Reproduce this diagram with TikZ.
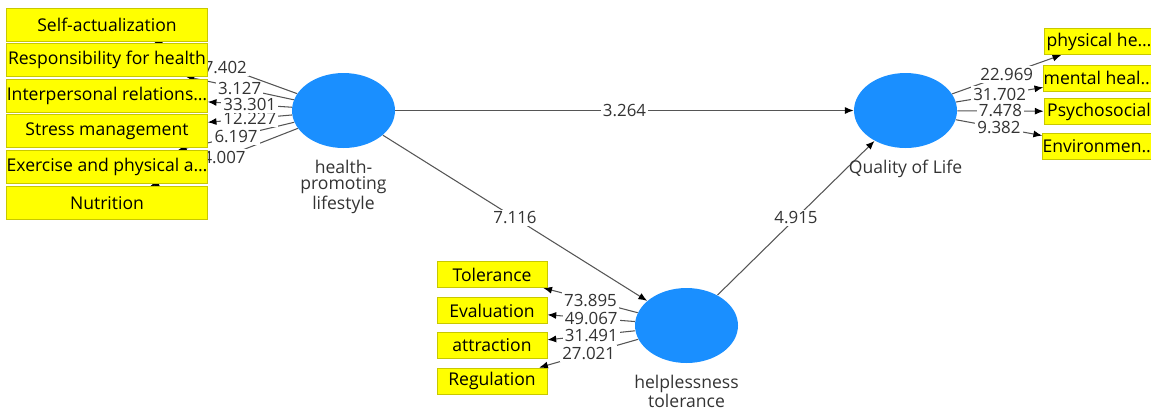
\documentclass[tikz,border=0pt]{standalone}
\usepackage{fontspec}
\setmainfont{Open Sans}
\usetikzlibrary{shapes.geometric, arrows.meta, positioning}
\definecolor{plsblue}{HTML}{1A8FFF}
\definecolor{plsyellow}{HTML}{FFFF00}
\definecolor{plsborder}{HTML}{C8C800}
\definecolor{pathgrey}{HTML}{555555}
\definecolor{textgrey}{HTML}{333333}
\pgfdeclarelayer{background}
\pgfsetlayers{background,main}
\tikzset{
  latent/.style={ellipse, fill=plsblue, minimum width=2.06cm, minimum height=1.5cm, inner sep=0pt},
  latentname/.style={align=center, inner sep=0pt, font=\fontsize{10}{9.6}\selectfont, text=textgrey},
  indicator/.style={rectangle, fill=plsyellow, draw=plsborder, line width=0.5pt, inner sep=0pt, font=\fontsize{10}{12}\selectfont},
  loading/.style={draw=pathgrey, line width=0.6pt, -{Latex[length=5pt, width=4pt, color=black]}},
  coef/.style={fill=white, inner sep=1.2pt, font=\fontsize{9.6}{10}\selectfont, text=textgrey}
}

\begin{document}
\begin{tikzpicture}[x=0.02cm, y=-0.02cm]
  \useasboundingbox (0,0) rectangle (1151,407);
  % latent variables
  \node[latent] (hpl) at (343.5,110.5) {};
  \node[latent] (qol) at (905.5,110.5) {};
  \node[latent] (ht) at (686.5,325.5) {};
  \node[latentname, below=0.22cm of hpl] (hpllabel) {health-\\promoting\\lifestyle};
  \node[latentname, below=0.22cm of qol] (qollabel) {Quality of Life};
  \node[latentname, below=0.22cm of ht] (htlabel) {helplessness\\tolerance};
  % indicators
  \foreach \name/\y/\txt in {sa/24.5/Self-actualization, rh/59.5/Responsibility for health,
      ir/95.5/Interpersonal relations…, sm/131/Stress management,
      ep/167/Exercise and physical a…, nu/203/Nutrition}{
    \node[indicator, minimum width=4.01cm, minimum height=0.66cm] (\name) at (107,\y) {\txt};
  }
  \foreach \name/\y/\txt in {ph/41.5/physical he…, mh/78/mental heal…,
      ps/111.5/Psychosocial, en/146/Environmen…}{
    \node[indicator, minimum width=2.2cm, minimum height=0.52cm] (\name) at (1099,\y) {\txt};
  }
  \foreach \name/\y/\txt in {to/274.5/Tolerance, ev/310.5/Evaluation,
      at/345.5/attraction, re/381/Regulation}{
    \node[indicator, minimum width=2.2cm, minimum height=0.52cm] (\name) at (492,\y) {\txt};
  }
  % paths and loadings
  \begin{pgfonlayer}{background}
    \draw[loading] (hpl) -- (qol) node[coef, midway] {3.264};
    \draw[loading] (hpl) -- (ht) node[coef, midway] {7.116};
    \draw[loading] (ht) -- (qol) node[coef, midway] {4.915};
    \foreach \name/\val in {nu/4.007, ep/6.197, sm/12.227, ir/33.301, rh/3.127, sa/7.402}{
      \draw[loading] (hpl) -- (\name) node[coef, midway] {\val};
    }
    \foreach \name/\val in {ph/22.969, mh/31.702, ps/7.478, en/9.382}{
      \draw[loading] (qol) -- (\name) node[coef, midway] {\val};
    }
    \foreach \name/\val in {re/27.021, at/31.491, ev/49.067, to/73.895}{
      \draw[loading] (ht) -- (\name) node[coef, midway] {\val};
    }
  \end{pgfonlayer}
\end{tikzpicture}
\end{document}
